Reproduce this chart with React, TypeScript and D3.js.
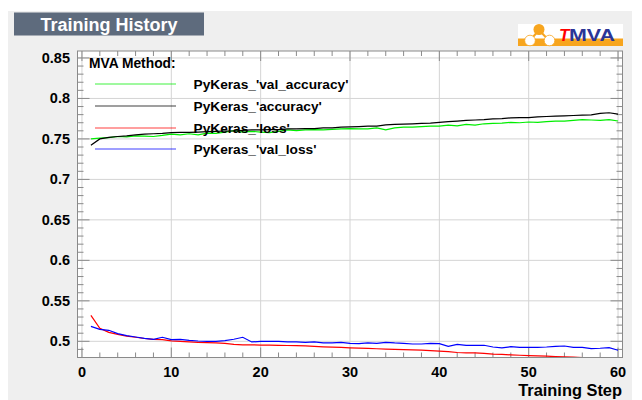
import React from "react";
import * as d3 from "d3";

const steps: number[] = Array.from({ length: 60 }, (_, i) => i + 1);

const valAccuracy: number[] = [
  0.75, 0.7509, 0.7517, 0.753, 0.7526, 0.7538, 0.7534, 0.753, 0.7543, 0.756,
  0.7551, 0.7564, 0.7551, 0.7572, 0.7568, 0.7585, 0.7602, 0.7585, 0.7594, 0.7585,
  0.7577, 0.7594, 0.7611, 0.7602, 0.7611, 0.7615, 0.7611, 0.7619, 0.7623, 0.7628,
  0.7623, 0.7623, 0.7636, 0.7611, 0.7636, 0.7645, 0.7645, 0.7653, 0.7657, 0.7657,
  0.767, 0.7662, 0.7679, 0.767, 0.7687, 0.7691, 0.7696, 0.7704, 0.77, 0.7709,
  0.7704, 0.7713, 0.7721, 0.7721, 0.773, 0.7738, 0.7734, 0.773, 0.7738, 0.7721,
];

const accuracy: number[] = [
  0.7423, 0.75, 0.752, 0.753, 0.7538, 0.7551, 0.756, 0.7564, 0.7568, 0.7577,
  0.7581, 0.7581, 0.7585, 0.7589, 0.7594, 0.7598, 0.7598, 0.7606, 0.7611, 0.7611,
  0.7615, 0.7615, 0.7623, 0.7623, 0.7628, 0.7628, 0.7636, 0.7636, 0.7645, 0.7649,
  0.7653, 0.7657, 0.7657, 0.7674, 0.7679, 0.7683, 0.7687, 0.7691, 0.7696, 0.7704,
  0.7713, 0.7721, 0.773, 0.7734, 0.7738, 0.7747, 0.7751, 0.776, 0.7764, 0.7764,
  0.7772, 0.7777, 0.7781, 0.7785, 0.7789, 0.7794, 0.7798, 0.7815, 0.7823, 0.7806,
];

const loss: number[] = [
  0.532, 0.516, 0.511, 0.5085, 0.5065, 0.505, 0.5035, 0.5025, 0.502, 0.5005,
  0.4998, 0.4992, 0.4988, 0.4984, 0.498, 0.4975, 0.4962, 0.4956, 0.4956, 0.4954,
  0.4952, 0.495, 0.4948, 0.4946, 0.4944, 0.4938, 0.4932, 0.4928, 0.4925, 0.492,
  0.4917, 0.4912, 0.4908, 0.4904, 0.49, 0.4897, 0.4893, 0.489, 0.4885, 0.4878,
  0.4873, 0.4862, 0.4858, 0.4856, 0.4852, 0.4842, 0.4838, 0.4833, 0.4828, 0.4823,
  0.482, 0.4818, 0.4812, 0.4808, 0.4806, 0.4798, 0.48, 0.4799, 0.479, 0.4772,
];

const valLoss: number[] = [
  0.5185, 0.5148, 0.5136, 0.5095, 0.507, 0.5053, 0.5037, 0.5025, 0.505, 0.502,
  0.5025, 0.5012, 0.5004, 0.5, 0.5, 0.5008, 0.5025, 0.505, 0.4992, 0.5,
  0.5, 0.5, 0.4992, 0.4992, 0.4988, 0.4992, 0.498, 0.498, 0.4988, 0.4975,
  0.4971, 0.498, 0.4975, 0.4988, 0.498, 0.4975, 0.4967, 0.4967, 0.4975, 0.4971,
  0.4938, 0.4963, 0.4951, 0.4951, 0.4951, 0.493, 0.4918, 0.4934, 0.4926, 0.4926,
  0.4926, 0.493, 0.4938, 0.4942, 0.4926, 0.4926, 0.491, 0.4914, 0.4922, 0.4889,
];

const seriesNames: string[] = [
  "PyKeras_'val_accuracy'",
  "PyKeras_'accuracy'",
  "PyKeras_'loss'",
  "PyKeras_'val_loss'",
];
const seriesColors: string[] = ["#00ee00", "#000000", "#ff0000", "#0000ff"];
const seriesData: number[][] = [valAccuracy, accuracy, loss, valLoss];

const xMajorTicks: number[] = [0, 10, 20, 30, 40, 50, 60];
const yMajorTicks: number[] = [0.5, 0.55, 0.6, 0.65, 0.7, 0.75, 0.8, 0.85];
const yTickLabels: string[] = ["0.5", "0.55", "0.6", "0.65", "0.7", "0.75", "0.8", "0.85"];

const W = 642;
const H = 400;
const FL = 77.5;
const FR = 622.5;
const FT = 51;
const FB = 357.5;
const FONT = "'Liberation Sans', Arial, Helvetica, sans-serif";

export default function App() {
  const x = d3.scaleLinear().domain([-0.5, 60.5]).range([FL, FR]);
  const y = d3.scaleLinear().domain([0.48, 0.8586]).range([FB, FT]);

  const xMinor: number[] = d3.range(0, 61, 2).filter((v) => v % 10 !== 0);
  const yMinor: number[] = d3
    .range(48, 86, 1)
    .map((v) => v / 100)
    .filter((v) => Math.round(v * 100) % 5 !== 0);

  const line = d3
    .line<number>()
    .x((_, i) => x(steps[i]))
    .y((d) => y(d))
    .curve(d3.curveLinear);

  const legendY0 = 84;
  const legendDy = 21.8;

  return (
    <svg
      width={W}
      height={H}
      style={{ position: "fixed", left: 0, top: 0, display: "block" }}
      fontFamily={FONT}
    >
      <defs>
        <clipPath id="frameClip">
          <rect x={FL} y={FT} width={FR - FL} height={FB - FT} />
        </clipPath>
      </defs>
      <rect x={0} y={0} width={W} height={H} fill="#ffffff" />
      <rect x={8} y={11} width={624} height={H - 11} fill="#efefef" />

      {/* Title box */}
      <rect x={14} y={12.5} width={190} height={23} fill="#5e6b7d" />
      <text
        x={109}
        y={30.5}
        textAnchor="middle"
        fill="#ffffff"
        fontWeight="bold"
        fontSize={18}
      >
        Training History
      </text>

      {/* TMVA logo */}
      <rect x={518} y={24} width={105} height={22} fill="#ffffff" />
      <rect x={518} y={38.5} width={105} height={7.5} fill="#f7a51e" />
      <line x1={530} y1={40.5} x2={539} y2={30} stroke="#f7a51e" strokeWidth={2} />
      <line x1={549} y1={40.5} x2={539} y2={30} stroke="#f7a51e" strokeWidth={2} />
      <circle cx={539} cy={29.5} r={5.5} fill="#f7a51e" />
      <circle cx={530} cy={40.5} r={5.3} fill="#ffffff" stroke="#f7a51e" strokeWidth={0.8} />
      <circle cx={549.5} cy={40.5} r={5.3} fill="#ffffff" stroke="#f7a51e" strokeWidth={0.8} />
      <text x={559} y={40.8} fill="#ff0000" fontWeight="bold" fontStyle="italic" fontSize={17}>
        T
      </text>
      <text
        x={569}
        y={40.8}
        fill="#2b3596"
        fontWeight="bold"
        fontSize={17}
        textLength={46}
        lengthAdjust="spacingAndGlyphs"
      >
        MVA
      </text>

      {/* Frame */}
      <rect x={FL} y={FT} width={FR - FL} height={FB - FT} fill="#ffffff" />

      {/* Grid */}
      {xMajorTicks.map((t) => (
        <line
          key={"gx" + t}
          x1={x(t)}
          x2={x(t)}
          y1={FT}
          y2={FB}
          stroke="#d4d4d4"
          strokeWidth={1}
        />
      ))}
      {yMajorTicks.map((t) => (
        <line
          key={"gy" + t}
          x1={FL}
          x2={FR}
          y1={y(t)}
          y2={y(t)}
          stroke="#d4d4d4"
          strokeWidth={1}
        />
      ))}

      {/* Ticks */}
      <g stroke="#8a8a8a" strokeWidth={1}>
        {xMajorTicks.map((t) => (
          <g key={"xt" + t}>
            <line x1={x(t)} x2={x(t)} y1={FB} y2={FB - 10} />
            <line x1={x(t)} x2={x(t)} y1={FT} y2={FT + 10} />
          </g>
        ))}
        {xMinor.map((t) => (
          <g key={"xm" + t}>
            <line x1={x(t)} x2={x(t)} y1={FB} y2={FB - 5} />
            <line x1={x(t)} x2={x(t)} y1={FT} y2={FT + 5} />
          </g>
        ))}
        {yMajorTicks.map((t) => (
          <g key={"yt" + t}>
            <line x1={FL} x2={FL + 12} y1={y(t)} y2={y(t)} />
            <line x1={FR} x2={FR - 12} y1={y(t)} y2={y(t)} />
          </g>
        ))}
        {yMinor.map((t) => (
          <g key={"ym" + t}>
            <line x1={FL} x2={FL + 6} y1={y(t)} y2={y(t)} />
            <line x1={FR} x2={FR - 6} y1={y(t)} y2={y(t)} />
          </g>
        ))}
      </g>

      {/* Data lines */}
      <g clipPath="url(#frameClip)">
        {seriesData.map((d, i) => (
          <path
            key={"s" + i}
            d={line(d) || ""}
            fill="none"
            stroke={seriesColors[i]}
            strokeWidth={1.2}
          />
        ))}
      </g>

      {/* Frame border */}
      <rect
        x={FL}
        y={FT}
        width={FR - FL}
        height={FB - FT}
        fill="none"
        stroke="#8a8a8a"
        strokeWidth={1}
      />

      {/* Y labels */}
      {yMajorTicks.map((t, i) => (
        <text
          key={"yl" + t}
          x={70}
          y={y(t) + 5}
          textAnchor="end"
          fontWeight="bold"
          fontSize={14.5}
          fill="#000"
        >
          {yTickLabels[i]}
        </text>
      ))}

      {/* X labels */}
      {xMajorTicks.map((t) => (
        <text
          key={"xl" + t}
          x={x(t)}
          y={376.5}
          textAnchor="middle"
          fontWeight="bold"
          fontSize={14.5}
          fill="#000"
        >
          {String(t)}
        </text>
      ))}
      <text x={622} y={396} textAnchor="end" fontWeight="bold" fontSize={16.4} fill="#000">
        Training Step
      </text>

      {/* Legend */}
      <text x={89} y={67.5} fontWeight="bold" fontSize={13.8} fill="#000">
        MVA Method:
      </text>
      {seriesNames.map((name, i) => {
        const ly = Math.round(legendY0 + i * legendDy);
        return (
          <g key={"lg" + i}>
            <line
              x1={95}
              x2={176}
              y1={ly}
              y2={ly}
              stroke={seriesColors[i]}
              strokeWidth={1}
              opacity={0.75}
            />
            <text x={193.5} y={ly + 5} fontWeight="bold" fontSize={13.7} fill="#000">
              {name}
            </text>
          </g>
        );
      })}
    </svg>
  );
}
